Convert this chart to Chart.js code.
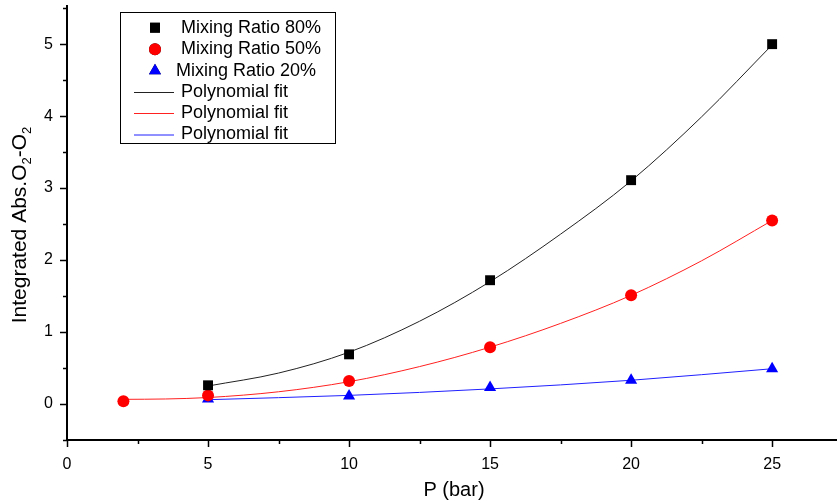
<!DOCTYPE html>
<html>
<head>
<meta charset="utf-8">
<script src="https://cdn.jsdelivr.net/npm/chart.js@4.4.1/dist/chart.umd.min.js"></script>
<style>
  html, body { margin: 0; padding: 0; background: #fff; }
  #wrap { width: 837px; height: 504px; }
</style>
</head>
<body>
<div id="wrap"><canvas id="c"></canvas></div>
<script>
// measured points
const pressure = [5, 10, 15, 20, 25];
const pressure50 = [2, 5, 10, 15, 20, 25];
const ratio80 = [0.26, 0.69, 1.72, 3.11, 5.00];
const ratio50 = [0.04, 0.12, 0.32, 0.79, 1.51, 2.55];
const ratio20 = [0.07, 0.11, 0.23, 0.33, 0.49];

// fit curves
const fitX80 = [5, 7.5, 10, 12.5, 15, 17.5, 20, 22.5, 25];
const fit80 = [0.25, 0.43, 0.72, 1.15, 1.70, 2.36, 3.10, 3.99, 4.99];
const fitX50 = [2, 3.5, 5, 7.5, 10, 12.5, 15, 17.5, 20, 22.5, 25];
const fit50 = [0.065, 0.07, 0.09, 0.17, 0.31, 0.52, 0.79, 1.12, 1.51, 1.99, 2.55];
const fitX20 = [5, 10, 15, 20, 25];
const fit20 = [0.06, 0.12, 0.21, 0.33, 0.49];

const yTitle = [['Integrated Abs.O', 0], ['2', 1], ['-O', 0], ['2', 1]];
const xTitle = 'P (bar)';

const FONT = '"Liberation Sans", Arial, sans-serif';
const pts = (xs, ys) => xs.map((x, i) => ({ x, y: ys[i] }));

const markerSet = (label, xs, ys, color, style, r) => ({
  label, data: pts(xs, ys), showLine: false, pointStyle: style, pointRadius: r,
  pointBackgroundColor: color, pointBorderColor: color, pointBorderWidth: 0, order: 0
});
const fitSet = (label, xs, ys, color) => ({
  label, data: pts(xs, ys), showLine: true, pointRadius: 0, borderColor: color,
  borderWidth: 1, cubicInterpolationMode: 'monotone', order: 1
});

const datasets = [
  markerSet('Mixing Ratio 80%', pressure, ratio80, '#000000', 'rect', 7),
  markerSet('Mixing Ratio 50%', pressure50, ratio50, '#ff0000', 'circle', 6),
  markerSet('Mixing Ratio 20%', pressure, ratio20, '#0000ff', 'triangle', 7),
  fitSet('Polynomial fit', fitX80, fit80, '#222222'),
  fitSet('Polynomial fit', fitX50, fit50, '#ff2020'),
  fitSet('Polynomial fit', fitX20, fit20, '#2020ff')
];

// ticks, titles and legend box
const decor = {
  id: 'decor',
  afterDraw(chart) {
    const { ctx, scales: { x, y } } = chart;
    ctx.save();
    ctx.strokeStyle = '#000';
    ctx.lineWidth = 1.5;
    x.ticks.forEach(t => {
      const px = Math.round(x.getPixelForValue(t.value)) + 0.5;
      const len = t.value % 5 === 0 ? 7 : 4;
      ctx.beginPath(); ctx.moveTo(px, y.bottom); ctx.lineTo(px, y.bottom + len); ctx.stroke();
    });
    y.ticks.forEach(t => {
      const py = Math.round(y.getPixelForValue(t.value)) + 0.5;
      const len = Math.abs(t.value % 1) < 1e-6 ? 7 : 4;
      ctx.beginPath(); ctx.moveTo(x.left, py); ctx.lineTo(x.left - len, py); ctx.stroke();
    });

    // x title
    ctx.fillStyle = '#000';
    ctx.font = '20px ' + FONT;
    ctx.textAlign = 'center';
    ctx.textBaseline = 'middle';
    ctx.fillText(xTitle, 454, 490);

    // y title with subscripts
    ctx.translate(26, 225);
    ctx.rotate(-Math.PI / 2);
    ctx.textAlign = 'left';
    ctx.textBaseline = 'alphabetic';
    let total = 0;
    yTitle.forEach(([s, sub]) => { ctx.font = (sub ? '13px ' : '21px ') + FONT; total += ctx.measureText(s).width; });
    let cx = -total / 2;
    yTitle.forEach(([s, sub]) => {
      ctx.font = (sub ? '13px ' : '21px ') + FONT;
      ctx.fillText(s, cx, sub ? 5 : 0);
      cx += ctx.measureText(s).width;
    });
    ctx.setTransform(1, 0, 0, 1, 0, 0);

    // legend
    ctx.lineWidth = 1;
    ctx.strokeStyle = '#000';
    ctx.strokeRect(120.5, 12.5, 215, 131);
    ctx.font = '18px ' + FONT;
    ctx.textBaseline = 'middle';
    const rows = [27.7, 49.3, 70.7, 92, 113, 134.5];
    chart.data.datasets.forEach((ds, i) => {
      const ry = rows[i];
      if (ds.showLine) {
        ctx.strokeStyle = ds.borderColor;
        ctx.beginPath(); ctx.moveTo(134, ry + 0.5); ctx.lineTo(174, ry + 0.5); ctx.stroke();
        ctx.fillStyle = '#000';
        ctx.fillText(ds.label, 181, ry);
      } else {
        Chart.helpers.drawPoint(ctx, { pointStyle: ds.pointStyle, radius: ds.pointRadius, borderWidth: 0 }, 155, ry);
        ctx.fillStyle = ds.pointBackgroundColor;
        ctx.fill();
        ctx.fillStyle = '#000';
        ctx.fillText(ds.label, i === 2 ? 176 : 181, ry);
      }
    });
    ctx.restore();
  }
};

new Chart(document.getElementById('c'), {
  type: 'scatter',
  data: { datasets },
  options: {
    responsive: true,
    maintainAspectRatio: false,
    animation: false,
    layout: { autoPadding: false, padding: { top: 6, right: 0, left: 0, bottom: 0 } },
    plugins: { legend: { display: false }, tooltip: { enabled: false } },
    scales: {
      x: {
        type: 'linear', min: 0, max: 27.3,
        afterFit: s => { s.height = 64; s.paddingLeft = 0; s.paddingRight = 0; },
        grid: { display: false },
        border: { display: true, color: '#000', width: 2 },
        ticks: {
          stepSize: 2.5, includeBounds: false, autoSkip: false, maxRotation: 0, padding: 7,
          color: '#000', font: { family: FONT, size: 16 },
          callback: v => (v % 5 === 0 ? String(v) : '')
        }
      },
      y: {
        type: 'linear', min: -0.5, max: 5.53,
        afterFit: s => { s.width = 67; s.paddingTop = 0; s.paddingBottom = 0; },
        grid: { display: false },
        border: { display: true, color: '#000', width: 2 },
        ticks: {
          stepSize: 0.5, includeBounds: false, autoSkip: false, padding: 6,
          color: '#000', font: { family: FONT, size: 16 },
          callback: v => (Math.abs(v % 1) < 1e-6 ? String(Math.round(v)) : '')
        }
      }
    }
  },
  plugins: [decor]
});
</script>
</body>
</html>
